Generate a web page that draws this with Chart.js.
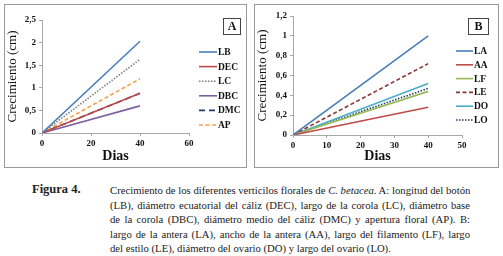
<!DOCTYPE html>
<html><head><meta charset="utf-8">
<script src="https://cdn.jsdelivr.net/npm/chart.js@4.4.0/dist/chart.umd.min.js"></script>
<style>
html,body{margin:0;padding:0;background:#fff;width:503px;height:256px;overflow:hidden;}
.frame{position:absolute;border:1px solid #9a9a9a;box-sizing:border-box;}
#fa{left:4px;top:4px;width:243px;height:164px;}
#fb{left:254px;top:4px;width:245px;height:164px;}
canvas{position:absolute;left:0;top:0;}
#fig{position:absolute;left:32px;top:182px;font:bold 12.5px "Liberation Serif",serif;color:#222;}
#cap{position:absolute;left:110px;top:183px;width:360px;font:10.7px/14.5px "Liberation Serif",serif;color:#222;}
#cap div{white-space:nowrap;text-align:justify;text-align-last:justify;}
#cap div.last{text-align-last:left;}
</style></head><body>
<div class="frame" id="fa"><canvas id="ca" width="241" height="162"></canvas></div>
<div class="frame" id="fb"><canvas id="cb" width="243" height="162"></canvas></div>
<div id="fig">Figura 4.</div>
<div id="cap"><div>Crecimiento de los diferentes verticilos florales de <i>C. betacea</i>. A: longitud del botón</div><div>(LB), diámetro ecuatorial del cáliz (DEC), largo de la corola (LC), diámetro base</div><div>de la corola (DBC), diámetro medio del cáliz (DMC) y apertura floral (AP). B:</div><div>largo de la antera (LA), ancho de la antera (AA), largo del filamento (LF), largo</div><div class="last">del estilo (LE), diámetro del ovario (DO) y largo del ovario (LO).</div></div>
<script>
// ---- data ----
const days = [0, 40];
const seriesA = ["LB", "DEC", "LC", "DBC", "DMC", "AP"];
const LB  = [0, 2.03];
const DEC = [0, 0.88];
const LC  = [0, 1.63];
const DBC = [0, 0.60];
const DMC = [0, 0.88];
const AP  = [0, 1.20];
const seriesB = ["LA", "AA", "LF", "LE", "DO", "LO"];
const LA = [0, 1.00];
const AA = [0, 0.28];
const LF = [0, 0.44];
const LE = [0, 0.72];
const DO = [0, 0.52];
const LO = [0, 0.47];
const xTicksA = [0, 20, 40, 60];
const yTicksA = [0, 0.5, 1, 1.5, 2, 2.5];
const xTicksB = [0, 10, 20, 30, 40, 50];
const yTicksB = [0, 0.2, 0.4, 0.6, 0.8, 1, 1.2];

const serif = '"Liberation Serif", serif';
const fmt = v => String(v).replace('.', ',');

function mk(label, vals, color, dash){
  return {label, data: days.map((d,i)=>({x:d,y:vals[i]})), borderColor: color, backgroundColor: color,
    borderWidth: 1.6, borderDash: dash || [], pointRadius: 0, tension: 0, fill: false};
}

function legendPlugin(cfg){
  return {id:'customLegend', afterDraw(chart){
    const ctx = chart.ctx;
    ctx.save();
    chart.data.datasets.forEach((ds,i)=>{
      const y = cfg.y0 + i*cfg.dy;
      ctx.strokeStyle = ds.borderColor; ctx.lineWidth = 1.6;
      ctx.setLineDash(ds.borderDash || []);
      ctx.beginPath(); ctx.moveTo(cfg.x0, y); ctx.lineTo(cfg.x0+cfg.len, y); ctx.stroke();
      ctx.setLineDash([]);
      ctx.fillStyle = '#111'; ctx.font = 'bold 9.5px ' + serif;
      ctx.textBaseline = 'middle'; ctx.textAlign = 'left';
      ctx.fillText(ds.label, cfg.x0+cfg.len+1, y+0.5);
    });
    // panel letter box
    ctx.strokeStyle = '#444'; ctx.lineWidth = 1;
    ctx.strokeRect(cfg.bx+0.5, cfg.by+0.5, cfg.bw, cfg.bh);
    ctx.fillStyle = '#111'; ctx.font = 'bold 12px ' + serif;
    ctx.textAlign = 'center'; ctx.textBaseline = 'middle';
    ctx.fillText(cfg.letter, cfg.bx+cfg.bw/2+0.5, cfg.by+cfg.bh/2+1);
    ctx.restore();
  }};
}

function makeChart(id, datasets, xt, yt, xmax, ymax, pad, yw, xh, leg){
  return new Chart(document.getElementById(id), {
    type: 'line',
    data: {datasets},
    options: {
      responsive: false, animation: false, devicePixelRatio: 1,
      layout: {padding: pad},
      plugins: {legend: {display: false}, tooltip: {enabled: false}},
      scales: {
        x: {type: 'linear', min: 0, max: xmax,
          afterBuildTicks: s => { s.ticks = xt.map(v=>({value:v})); },
          afterFit: s => { s.height = xh; },
          grid: {display: true, drawOnChartArea: false, color: '#a8a8a8', tickLength: 3},
          border: {color: '#a8a8a8'},
          ticks: {font: {family: serif, size: 9, weight: 'bold'}, color: '#111', padding: 2, maxRotation: 0, callback: v=>fmt(v)},
          title: {display: true, text: 'Dias', font: {family: serif, size: 14, weight: 'bold'}, color: '#111', padding: {top: 0, bottom: 0}}
        },
        y: {type: 'linear', min: 0, max: ymax,
          afterBuildTicks: s => { s.ticks = yt.map(v=>({value:v})); },
          afterFit: s => { s.width = yw; },
          grid: {display: true, drawOnChartArea: false, color: '#a8a8a8', tickLength: 3},
          border: {color: '#a8a8a8'},
          ticks: {font: {family: serif, size: 9, weight: 'bold'}, color: '#111', padding: 3, callback: v=>fmt(v)},
          title: {display: true, text: 'Crecimiento (cm)', font: {family: serif, size: 13}, color: '#111', padding: {top: 0, bottom: 1}}
        }
      }
    },
    plugins: [legendPlugin(leg)]
  });
}

makeChart('ca', [
  mk('LB', LB, '#4a7ebb'),
  mk('DEC', DEC, '#be4b48'),
  mk('LC', LC, '#7f7f7f', [1.5, 1.5]),
  mk('DBC', DBC, '#7d60a0'),
  mk('DMC', DMC, '#1f3a6b', [6, 4]),
  mk('AP', AP, '#f5a04a', [4, 2.5])
], xTicksA, yTicksA, 60, 2.5, {left: 0, right: 57, top: 15, bottom: 2}, 37, 32,
  {x0: 194, y0: 47, dy: 14.6, len: 18, bx: 218, by: 13, bw: 17, bh: 16, letter: 'A'});

makeChart('cb', [
  mk('LA', LA, '#4a7ebb'),
  mk('AA', AA, '#be4b48'),
  mk('LF', LF, '#98b954'),
  mk('LE', LE, '#8c3836', [4, 2.5]),
  mk('DO', DO, '#4bacc6'),
  mk('LO', LO, '#1f3a6b', [1.5, 1.5])
], xTicksB, yTicksB, 50, 1.2, {left: 0, right: 36, top: 11, bottom: 2}, 38, 30,
  {x0: 201, y0: 46, dy: 13.8, len: 17, bx: 213, by: 13, bw: 20, bh: 16, letter: 'B'});
</script>
</body></html>
